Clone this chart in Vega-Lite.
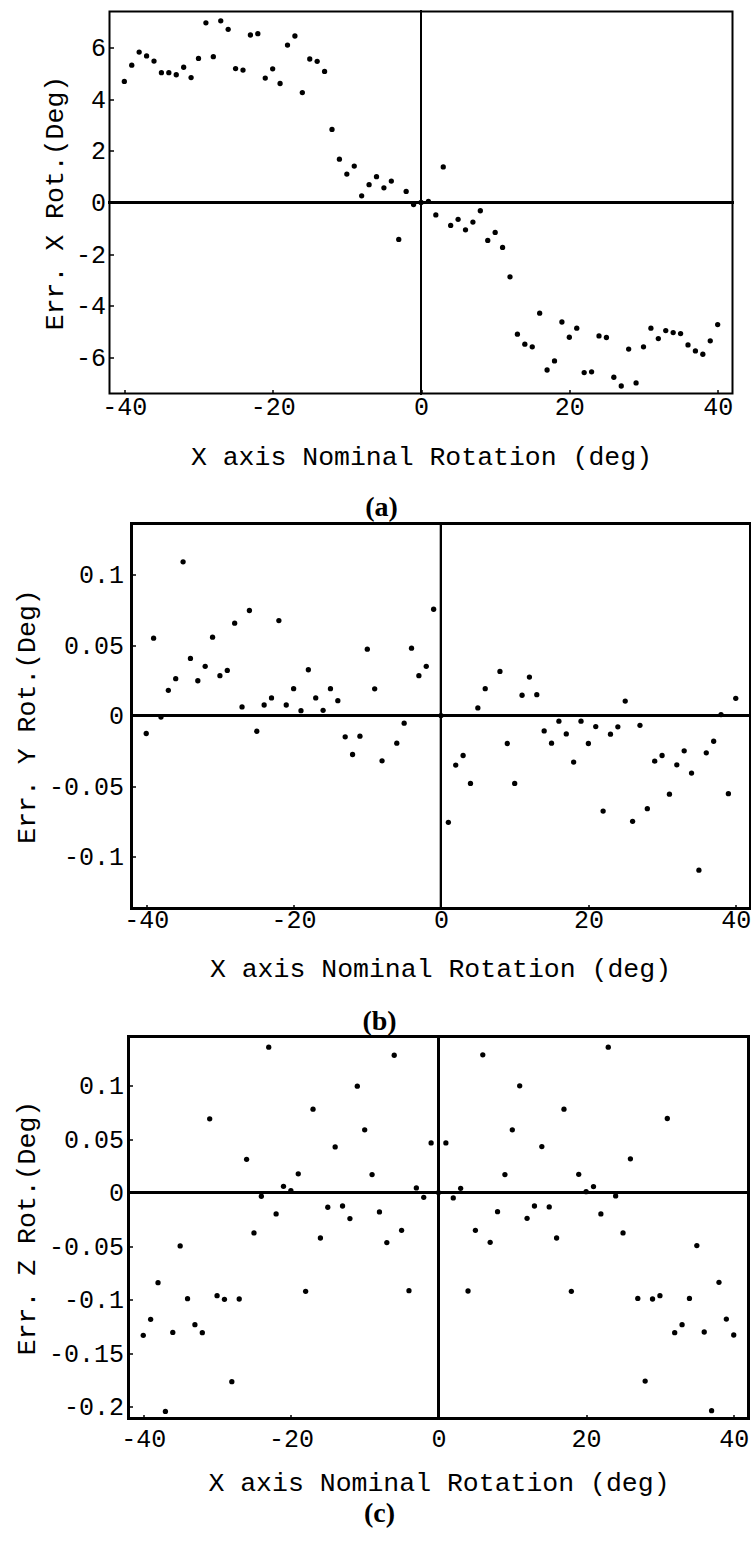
{
  "$schema": "https://vega.github.io/schema/vega-lite/v6.json",
  "background": "white",
  "padding": {"left": 12.5, "top": 8.5, "right": 0, "bottom": 0},
  "spacing": -2.7,
  "config": {
    "view": {"stroke": "black", "strokeWidth": 2, "fill": "white"},
    "axis": {
      "labelFont": "Liberation Mono", "titleFont": "Liberation Mono",
      "labelFontSize": 25, "titleFontSize": 26.5,
      "labelColor": "black", "titleColor": "black", "titleFontWeight": "normal",
      "grid": false, "ticks": true, "tickSize": -4, "tickWidth": 1.5, "tickColor": "black",
      "domain": false, "labelOverlap": false
    },
    "rule": {"color": "black", "strokeWidth": 2, "strokeCap": "square"},
    "title": {"font": "Liberation Serif", "fontWeight": "bold", "fontSize": 28, "orient": "bottom", "anchor": "middle", "frame": "group", "color": "black"}
  },
  "datasets": {
    "a": [
      {"x": -40, "y": 4.69}, {"x": -39, "y": 5.32}, {"x": -38, "y": 5.83}, {"x": -37, "y": 5.68}, {"x": -36, "y": 5.48},
      {"x": -35, "y": 5.03}, {"x": -34, "y": 5.03}, {"x": -33, "y": 4.95}, {"x": -32, "y": 5.24}, {"x": -31, "y": 4.84},
      {"x": -30, "y": 5.58}, {"x": -29, "y": 6.96}, {"x": -28, "y": 5.65}, {"x": -27, "y": 7.04}, {"x": -26, "y": 6.71},
      {"x": -25, "y": 5.19}, {"x": -24, "y": 5.13}, {"x": -23, "y": 6.49}, {"x": -22, "y": 6.54}, {"x": -21, "y": 4.82},
      {"x": -20, "y": 5.18}, {"x": -19, "y": 4.61}, {"x": -18, "y": 6.10}, {"x": -17, "y": 6.45}, {"x": -16, "y": 4.26},
      {"x": -15, "y": 5.56}, {"x": -14, "y": 5.47}, {"x": -13, "y": 5.08}, {"x": -12, "y": 2.83}, {"x": -11, "y": 1.68},
      {"x": -10, "y": 1.10}, {"x": -9, "y": 1.41}, {"x": -8, "y": 0.26}, {"x": -7, "y": 0.69}, {"x": -6, "y": 1.00},
      {"x": -5, "y": 0.57}, {"x": -4, "y": 0.83}, {"x": -3, "y": -1.43}, {"x": -2, "y": 0.43}, {"x": -1, "y": -0.08},
      {"x": 0, "y": 0}, {"x": 1, "y": 0.04}, {"x": 2, "y": -0.48}, {"x": 3, "y": 1.38}, {"x": 4, "y": -0.89},
      {"x": 5, "y": -0.65}, {"x": 6, "y": -1.06}, {"x": 7, "y": -0.76}, {"x": 8, "y": -0.32}, {"x": 9, "y": -1.47},
      {"x": 10, "y": -1.16}, {"x": 11, "y": -1.74}, {"x": 12, "y": -2.88}, {"x": 13, "y": -5.10}, {"x": 14, "y": -5.49},
      {"x": 15, "y": -5.59}, {"x": 16, "y": -4.29}, {"x": 17, "y": -6.49}, {"x": 18, "y": -6.14}, {"x": 19, "y": -4.63},
      {"x": 20, "y": -5.22}, {"x": 21, "y": -4.87}, {"x": 22, "y": -6.59}, {"x": 23, "y": -6.56}, {"x": 24, "y": -5.17},
      {"x": 25, "y": -5.23}, {"x": 26, "y": -6.77}, {"x": 27, "y": -7.11}, {"x": 28, "y": -5.68}, {"x": 29, "y": -6.99},
      {"x": 30, "y": -5.59}, {"x": 31, "y": -4.87}, {"x": 32, "y": -5.27}, {"x": 33, "y": -4.96}, {"x": 34, "y": -5.04},
      {"x": 35, "y": -5.08}, {"x": 36, "y": -5.52}, {"x": 37, "y": -5.75}, {"x": 38, "y": -5.88}, {"x": 39, "y": -5.36},
      {"x": 40, "y": -4.73}
    ],
    "b": [
      {"x": -40, "y": -0.0127}, {"x": -39, "y": 0.0549}, {"x": -38, "y": -0.001}, {"x": -37, "y": 0.0179}, {"x": -36, "y": 0.0262},
      {"x": -35, "y": 0.109}, {"x": -34, "y": 0.0405}, {"x": -33, "y": 0.0247}, {"x": -32, "y": 0.0349}, {"x": -31, "y": 0.0556},
      {"x": -30, "y": 0.0283}, {"x": -29, "y": 0.032}, {"x": -28, "y": 0.0655}, {"x": -27, "y": 0.0061}, {"x": -26, "y": 0.0745},
      {"x": -25, "y": -0.0111}, {"x": -24, "y": 0.0075}, {"x": -23, "y": 0.0125}, {"x": -22, "y": 0.0674}, {"x": -21, "y": 0.0075},
      {"x": -20, "y": 0.0191}, {"x": -19, "y": 0.0035}, {"x": -18, "y": 0.0325}, {"x": -17, "y": 0.0125}, {"x": -16, "y": 0.0037},
      {"x": -15, "y": 0.0191}, {"x": -14, "y": 0.0106}, {"x": -13, "y": -0.0151}, {"x": -12, "y": -0.0276}, {"x": -11, "y": -0.0146},
      {"x": -10, "y": 0.0471}, {"x": -9, "y": 0.019}, {"x": -8, "y": -0.0321}, {"x": -6, "y": -0.0196},
      {"x": -5, "y": -0.0054}, {"x": -4, "y": 0.0478}, {"x": -3, "y": 0.0283}, {"x": -2, "y": 0.0349}, {"x": -1, "y": 0.0754},
      {"x": 0, "y": 0}, {"x": 1, "y": -0.0757}, {"x": 2, "y": -0.0351}, {"x": 3, "y": -0.0283}, {"x": 4, "y": -0.0481},
      {"x": 5, "y": 0.0054}, {"x": 6, "y": 0.0191}, {"x": 8, "y": 0.0313}, {"x": 9, "y": -0.0198},
      {"x": 10, "y": -0.0481}, {"x": 11, "y": 0.0144}, {"x": 12, "y": 0.0273}, {"x": 13, "y": 0.0148}, {"x": 14, "y": -0.0109},
      {"x": 15, "y": -0.0196}, {"x": 16, "y": -0.004}, {"x": 17, "y": -0.013}, {"x": 18, "y": -0.033}, {"x": 19, "y": -0.004},
      {"x": 20, "y": -0.0198}, {"x": 21, "y": -0.0078}, {"x": 22, "y": -0.0677}, {"x": 23, "y": -0.0132}, {"x": 24, "y": -0.008},
      {"x": 25, "y": 0.0103}, {"x": 26, "y": -0.075}, {"x": 27, "y": -0.0069}, {"x": 28, "y": -0.066}, {"x": 29, "y": -0.0323},
      {"x": 30, "y": -0.0283}, {"x": 31, "y": -0.0557}, {"x": 32, "y": -0.0349}, {"x": 33, "y": -0.025}, {"x": 34, "y": -0.0408},
      {"x": 35, "y": -0.1096}, {"x": 36, "y": -0.0264}, {"x": 37, "y": -0.0182}, {"x": 38, "y": 0.0007}, {"x": 39, "y": -0.0554},
      {"x": 40, "y": 0.0122}
    ],
    "c": [
      {"x": -40, "y": -0.1333}, {"x": -39, "y": -0.1184}, {"x": -38, "y": -0.0841}, {"x": -37, "y": -0.2044}, {"x": -36, "y": -0.1306},
      {"x": -35, "y": -0.0498}, {"x": -34, "y": -0.0991}, {"x": -33, "y": -0.1234}, {"x": -32, "y": -0.1308}, {"x": -31, "y": 0.0689},
      {"x": -30, "y": -0.0963}, {"x": -29, "y": -0.0997}, {"x": -28, "y": -0.1766}, {"x": -27, "y": -0.0994}, {"x": -26, "y": 0.0311},
      {"x": -25, "y": -0.0377}, {"x": -24, "y": -0.0034}, {"x": -23, "y": 0.1358}, {"x": -22, "y": -0.0199}, {"x": -21, "y": 0.0059},
      {"x": -20, "y": 0.0019}, {"x": -19, "y": 0.0175}, {"x": -18, "y": -0.0922}, {"x": -17, "y": 0.0779}, {"x": -16, "y": -0.0424},
      {"x": -15, "y": -0.0137}, {"x": -14, "y": 0.0427}, {"x": -13, "y": -0.0125}, {"x": -12, "y": -0.0243}, {"x": -11, "y": 0.0994},
      {"x": -10, "y": 0.0586}, {"x": -9, "y": 0.0168}, {"x": -8, "y": -0.0181}, {"x": -7, "y": -0.0467}, {"x": -6, "y": 0.1283},
      {"x": -5, "y": -0.0352}, {"x": -4, "y": -0.0916}, {"x": -3, "y": 0.0044}, {"x": -2, "y": -0.0044}, {"x": -1, "y": 0.0464},
      {"x": 0, "y": 0}, {"x": 1, "y": 0.0464}, {"x": 2, "y": -0.005}, {"x": 3, "y": 0.004}, {"x": 4, "y": -0.0919},
      {"x": 5, "y": -0.0352}, {"x": 6, "y": 0.1287}, {"x": 7, "y": -0.0464}, {"x": 8, "y": -0.0178}, {"x": 9, "y": 0.0168},
      {"x": 10, "y": 0.0586}, {"x": 11, "y": 0.0997}, {"x": 12, "y": -0.024}, {"x": 13, "y": -0.0125}, {"x": 14, "y": 0.043},
      {"x": 15, "y": -0.0134}, {"x": 16, "y": -0.0424}, {"x": 17, "y": 0.0779}, {"x": 18, "y": -0.0922}, {"x": 19, "y": 0.0171},
      {"x": 20, "y": 0.0009}, {"x": 21, "y": 0.0056}, {"x": 22, "y": -0.0199}, {"x": 23, "y": 0.1358}, {"x": 24, "y": -0.0031},
      {"x": 25, "y": -0.0377}, {"x": 26, "y": 0.0315}, {"x": 27, "y": -0.0988}, {"x": 28, "y": -0.176}, {"x": 29, "y": -0.0994},
      {"x": 30, "y": -0.0963}, {"x": 31, "y": 0.0692}, {"x": 32, "y": -0.1308}, {"x": 33, "y": -0.1234}, {"x": 34, "y": -0.0988},
      {"x": 35, "y": -0.0495}, {"x": 36, "y": -0.1302}, {"x": 37, "y": -0.2037}, {"x": 38, "y": -0.0838}, {"x": 39, "y": -0.1181},
      {"x": 40, "y": -0.133}
    ]
  },
  "vconcat": [
    {
      "width": 623, "height": 382,
      "data": {"name": "a"},
      "title": {"text": "(a)", "dx": -39.5, "offset": 24.1},
      "layer": [
        {"mark": "rule", "encoding": {"x": {"datum": 0, "type": "quantitative"}}},
        {"mark": "rule", "encoding": {"y": {"datum": 0, "type": "quantitative"}}},
        {
          "mark": {"type": "circle", "size": 28, "color": "black", "opacity": 1},
          "encoding": {
            "x": {"field": "x", "type": "quantitative", "scale": {"domain": [-42, 42], "nice": false, "zero": false},
                  "axis": {"title": "X axis Nominal Rotation (deg)", "values": [-40, -20, 0, 20, 40], "labelExpr": "'' + datum.value", "labelPadding": 5, "titlePadding": 24}},
            "y": {"field": "y", "type": "quantitative", "scale": {"domain": [-7.4, 7.4], "nice": false, "zero": false},
                  "axis": {"title": "Err. X Rot.(Deg)", "values": [-6, -4, -2, 0, 2, 4, 6], "labelExpr": "'' + datum.value", "labelPadding": 8, "titlePadding": 6.75}}
          }
        }
      ]
    },
    {
      "width": 641, "height": 385,
      "data": {"name": "b"},
      "view": {"stroke": null},
      "title": {"text": "(b)", "dx": -50.5, "offset": 25.9},
      "layer": [
        {"mark": "rule", "encoding": {"x": {"datum": -42, "type": "quantitative"}}},
        {"mark": "rule", "encoding": {"x": {"datum": 42, "type": "quantitative"}}},
        {"mark": "rule", "encoding": {"x": {"datum": 0, "type": "quantitative"}}},
        {"mark": "rule", "encoding": {"y": {"datum": 0.1362, "type": "quantitative"}, "x": {"datum": -42, "type": "quantitative"}, "x2": {"datum": 42}}},
        {"mark": "rule", "encoding": {"y": {"datum": -0.1368, "type": "quantitative"}, "x": {"datum": -42, "type": "quantitative"}, "x2": {"datum": 42}}},
        {"mark": "rule", "encoding": {"y": {"datum": 0, "type": "quantitative"}, "x": {"datum": -42, "type": "quantitative"}, "x2": {"datum": 42}}},
        {
          "mark": {"type": "circle", "size": 28, "color": "black", "opacity": 1},
          "encoding": {
            "x": {"field": "x", "type": "quantitative", "scale": {"domain": [-44.985, 42], "nice": false, "zero": false},
                  "axis": {"title": "X axis Nominal Rotation (deg)", "titleX": 330.5, "values": [-40, -20, 0, 20, 40], "labelExpr": "'' + datum.value", "labelPadding": 3, "titlePadding": 23}},
            "y": {"field": "y", "type": "quantitative", "scale": {"domain": [-0.1368, 0.1362], "nice": false, "zero": false},
                  "axis": {"title": "Err. Y Rot.(Deg)", "offset": -22, "values": [-0.1, -0.05, 0, 0.05, 0.1], "labelExpr": "'' + datum.value", "labelPadding": 12, "titlePadding": 8}}
          }
        }
      ]
    },
    {
      "width": 639, "height": 382,
      "data": {"name": "c"},
      "view": {"stroke": null},
      "title": {"text": "(c)", "dx": -49.5, "offset": 4},
      "layer": [
        {"mark": "rule", "encoding": {"x": {"datum": -42, "type": "quantitative"}}},
        {"mark": "rule", "encoding": {"x": {"datum": 42, "type": "quantitative"}}},
        {"mark": "rule", "encoding": {"x": {"datum": 0, "type": "quantitative"}}},
        {"mark": "rule", "encoding": {"y": {"datum": 0.1458, "type": "quantitative"}, "x": {"datum": -42, "type": "quantitative"}, "x2": {"datum": 42}}},
        {"mark": "rule", "encoding": {"y": {"datum": -0.211, "type": "quantitative"}, "x": {"datum": -42, "type": "quantitative"}, "x2": {"datum": 42}}},
        {"mark": "rule", "encoding": {"y": {"datum": 0, "type": "quantitative"}, "x": {"datum": -42, "type": "quantitative"}, "x2": {"datum": 42}}},
        {
          "mark": {"type": "circle", "size": 28, "color": "black", "opacity": 1},
          "encoding": {
            "x": {"field": "x", "type": "quantitative", "scale": {"domain": [-44.574, 42], "nice": false, "zero": false},
                  "axis": {"title": "X axis Nominal Rotation (deg)", "titleX": 329, "values": [-40, -20, 0, 20, 40], "labelExpr": "'' + datum.value", "labelPadding": 12.3, "titlePadding": 18}},
            "y": {"field": "y", "type": "quantitative", "scale": {"domain": [-0.211, 0.1458], "nice": false, "zero": false},
                  "axis": {"title": "Err. Z Rot.(Deg)", "offset": -19, "values": [-0.2, -0.15, -0.1, -0.05, 0, 0.05, 0.1], "labelExpr": "'' + datum.value", "labelPadding": 9, "titlePadding": 8}}
          }
        }
      ]
    }
  ]
}
